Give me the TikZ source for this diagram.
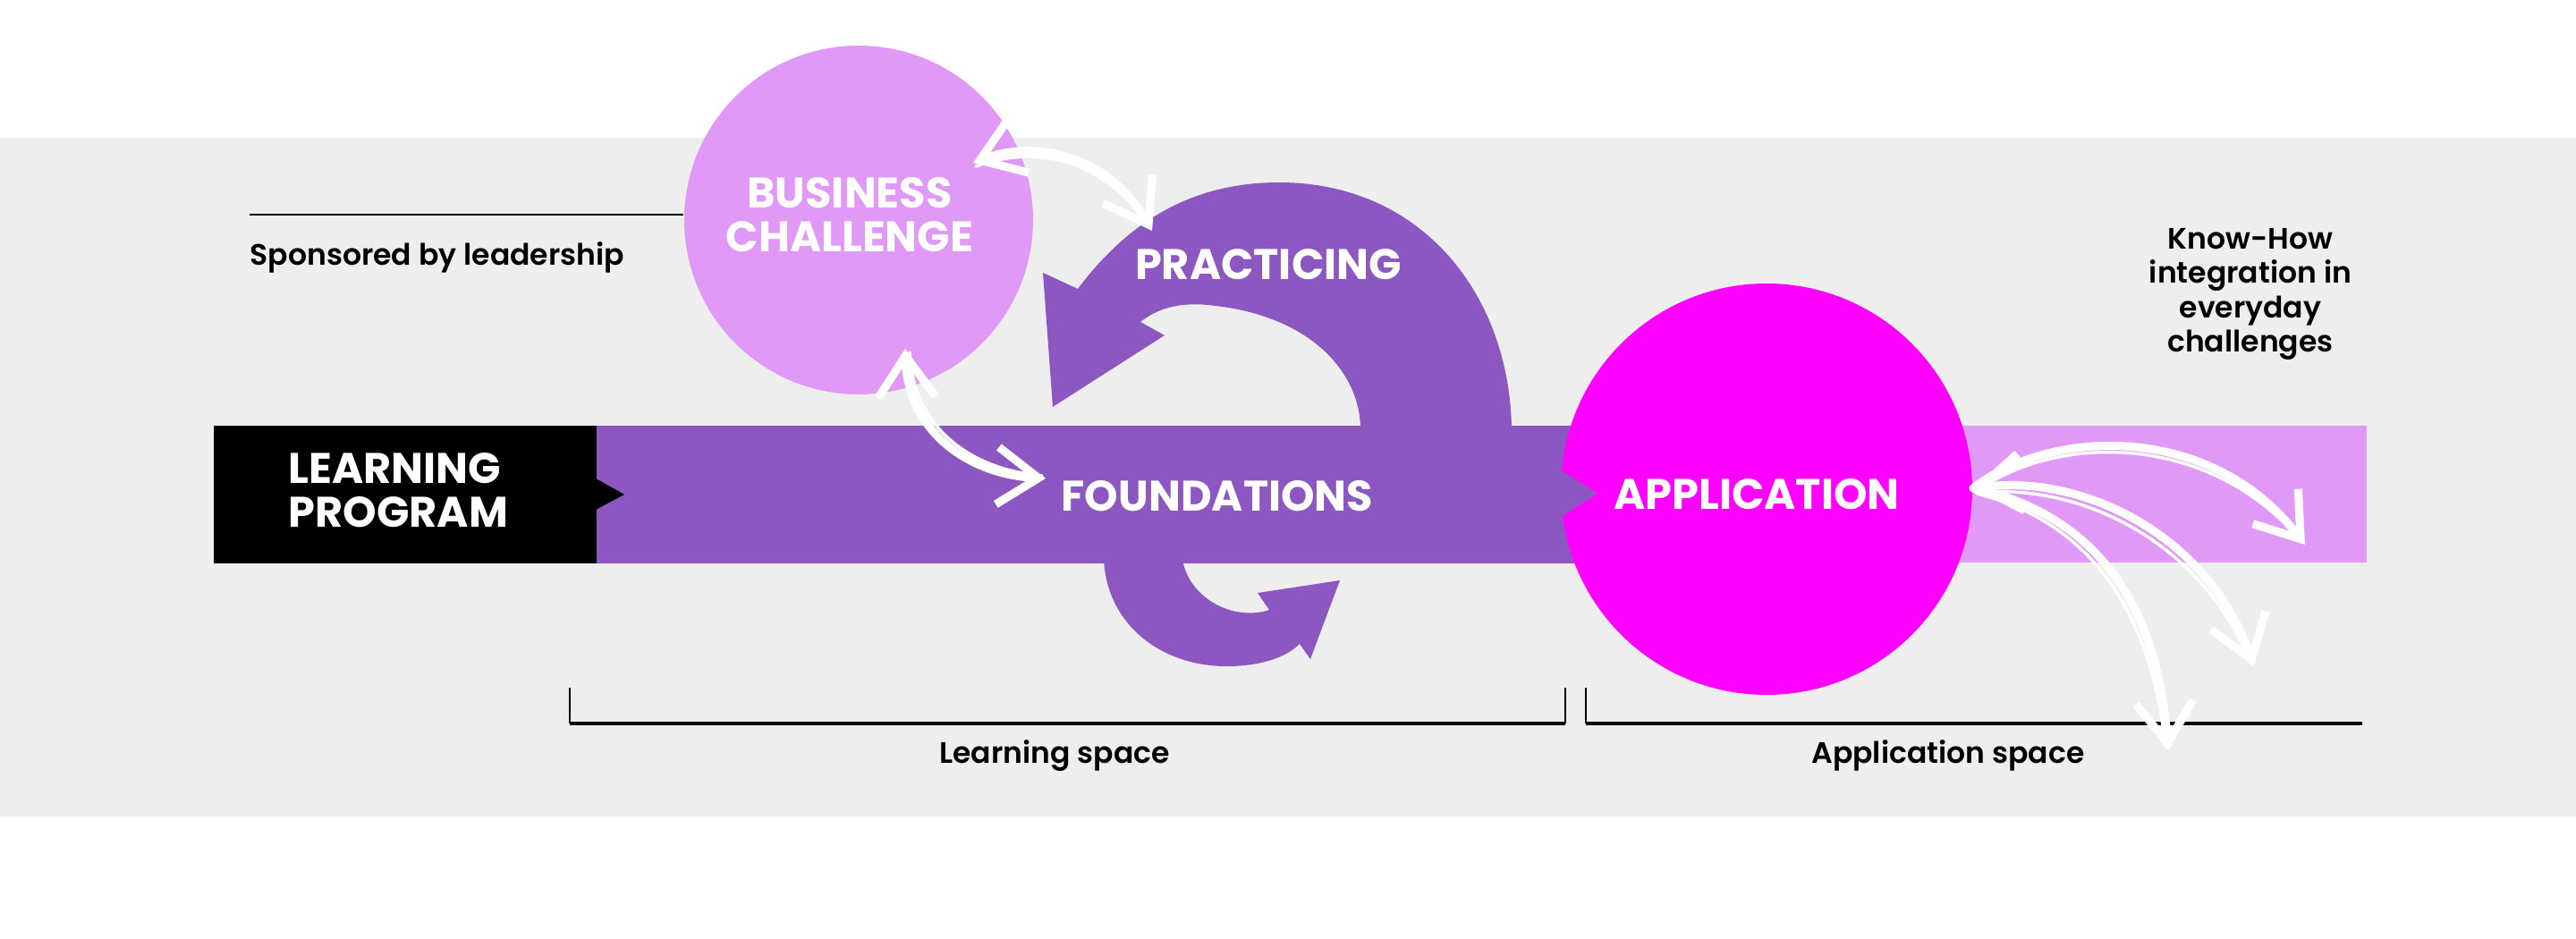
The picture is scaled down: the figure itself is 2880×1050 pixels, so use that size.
\documentclass[tikz,border=0pt]{standalone}
\usepackage{fontspec}
\setmainfont{Poppins}[UprightFont=* SemiBold,BoldFont=* Bold]
\usetikzlibrary{arrows.meta,positioning,calc}
\definecolor{progpurple}{HTML}{8D57C1}
\definecolor{lilac}{HTML}{E199F7}
\definecolor{appmagenta}{HTML}{FF00FF}
\definecolor{bandgray}{HTML}{EEEEEE}
\newcommand\bigfont{\bfseries\fontsize{13.6}{13.8}\selectfont}
\newcommand\smallfont{\fontsize{9.4}{10.9}\selectfont}

\begin{document}
\begin{tikzpicture}[x=0.1mm,y=-0.1mm,
  >={Straight Barb[length=4.6mm,width=6.4mm]},
  bigcircle/.style={circle,inner sep=0pt},
  biglabel/.style={text=white,font=\bigfont,align=left,inner sep=0pt},
  smalllabel/.style={font=\smallfont,inner sep=0pt,align=center},
  loopfill/.style={fill=progpurple},
  sketch/.style={draw=white,line width=2.6pt,line cap=round,line join=round},
  sketchthin/.style={draw=white,line width=1pt,line cap=round},
  tick/.style={line width=0.6pt},
  rule/.style={line width=1.2pt}
]
\useasboundingbox (0,0) rectangle (2880,1050);
\fill[white] (0,0) rectangle (2880,1050);
\fill[bandgray] (0,154) rectangle (2880,913);

% bars
\fill[lilac] (1975,476) rectangle (2646,629);
\fill[progpurple] (667,476) rectangle (1800,630);

% practicing loop
\fill[loopfill] (1690,480) .. controls (1688,330) and (1590,204) .. (1430,204)
  .. controls (1330,204) and (1260,250) .. (1205,323) -- (1166,305) -- (1177,455)
  -- (1302,375) -- (1275,360) .. controls (1300,340) and (1330,338) .. (1359,342)
  .. controls (1470,355) and (1521,420) .. (1521,480) -- cycle;
% foundations loop
\fill[loopfill] (1234,626) .. controls (1238,700) and (1300,745) .. (1371,745)
  .. controls (1410,745) and (1438,735) .. (1453,720) -- (1465,737) -- (1498,649)
  -- (1406,663) -- (1419,682) .. controls (1380,695) and (1330,670) .. (1322,626) -- cycle;

% learning program box
\fill[black] (239,476) rectangle (667,630);
\fill[black] (666,535) -- (698,553) -- (666,570) -- cycle;
\node[biglabel,anchor=west] (lp) at (322,548) {LEARNING\\PROGRAM};

% circles
\node[bigcircle,fill=lilac,minimum size=39mm] (biz) at (960,246) {};
\node[biglabel,align=center] (biztxt) at (950,240) {BUSINESS\\CHALLENGE};
\node[bigcircle,fill=appmagenta,minimum size=46mm] (app) at (1975,547) {};
\fill[progpurple] (1744,525) -- (1786,552) -- (1744,579) -- cycle;
\node[biglabel] (apptxt) at (1964,553) {APPLICATION};

\node[biglabel] (prac) at (1418,296) {PRACTICING};
\node[biglabel] (found) at (1361,555) {FOUNDATIONS};

% side texts
\coordinate (spon) at (279,240);
\draw[line width=0.8pt] (spon) -- (spon -| biz.west);
\node[smalllabel,anchor=base west] (spontxt) at (279,297) {Sponsored by leadership};
\node[smalllabel] (know) at (2516,329) {Know-How\\integration in\\everyday\\challenges};

% spaces
\coordinate (ls1) at (637,769);
\coordinate (ls2) at (1750,769);
\coordinate (as1) at (1773,769);
\coordinate (as2) at (2641,809);
\draw[tick] (ls1) -- (ls1 |- as2);
\draw[tick] (ls2) -- (ls2 |- as2);
\draw[tick] (as1) -- (as1 |- as2);
\draw[rule] (ls1 |- as2) -- (ls2 |- as2);
\draw[rule] (as1 |- as2) -- (as2);
\node[smalllabel] (lspace) at (1179,845) {Learning space};
\node[smalllabel] (aspace) at (2178,845) {Application space};

% hand drawn arrows
\coordinate (b1) at (1088,182);
\coordinate (p1) at (1288,258);
\coordinate (b2) at (1012,390);
\coordinate (f1) at (1169,535);
\coordinate (a0) at (2206,546);
\coordinate (a1) at (2577,609);
\coordinate (a2) at (2520,745);
\coordinate (a3) at (2424,839);
\draw[sketch,<->] (b1) .. controls (1160,155) and (1240,175) .. (p1);
\draw[sketchthin] ($(b1)+(3,4)$) .. controls (1162,160) and (1236,180) .. ($(p1)+(-3,-4)$);
\draw[sketch,<->] (b2) .. controls (1015,480) and (1080,530) .. (f1);
\draw[sketchthin] ($(b2)+(5,4)$) .. controls (1020,476) and (1083,525) .. ($(f1)+(-4,-3)$);
\draw[sketch,->] (a0) .. controls (2290,480) and (2470,470) .. (a1);
\draw[sketchthin] ($(a0)+(3,4)$) .. controls (2293,488) and (2464,478) .. ($(a1)+(-4,-4)$);
\draw[sketch,<->] (a0) .. controls (2330,530) and (2470,600) .. (a2);
\draw[sketchthin] ($(a0)+(3,5)$) .. controls (2327,539) and (2462,607) .. ($(a2)+(-4,-4)$);
\draw[sketch,->] (a0) .. controls (2320,570) and (2410,650) .. (a3);
\draw[sketchthin] ($(a0)+(4,6)$) .. controls (2314,578) and (2402,656) .. ($(a3)+(-3,-4)$);
\end{tikzpicture}
\end{document}
